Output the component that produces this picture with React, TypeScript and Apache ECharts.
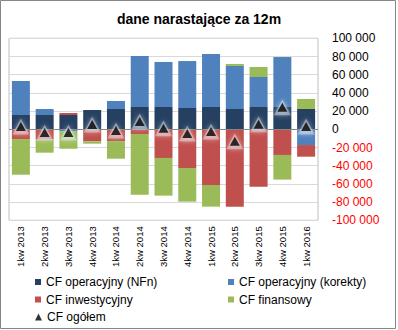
import React, { useEffect, useRef } from 'react';
import * as echarts from 'echarts';

const categories = ['1kw 2013', '2kw 2013', '3kw 2013', '4kw 2013', '1kw 2014', '2kw 2014', '3kw 2014', '4kw 2014', '1kw 2015', '2kw 2015', '3kw 2015', '4kw 2015', '1kw 2016'];
const cfNFn = [15700, 15700, 15700, 21200, 22300, 24500, 24500, 23400, 24500, 22300, 24500, 24500, 22300];
const cfKorekty = [37400, 6600, -2500, 0, 8800, 56000, 49500, 51600, 58200, 47300, 33000, 54900, -17300];
const cfInwest = [-10700, -11400, 2200, -13200, -12900, -5200, -31500, -42500, -61200, -85000, -63000, -28200, -12800];
const cfFinans = [-39200, -14300, -18800, -2600, -19400, -66600, -41400, -37000, -23800, 2200, 11000, -27100, 11000];
const cfOgolem = [3200, -3400, -3400, 5400, -1200, 8700, 1100, -4500, -2300, -13200, 5500, 24100, 3200];

const FONT = 'Liberation Sans';

function fmt(v: number) {
  const s = Math.abs(v).toString().replace(/\B(?=(\d{3})+(?!\d))/g, ' ');
  return (v < 0 ? '-' : '') + s;
}

export default function App() {
  const ref = useRef<HTMLDivElement>(null);
  useEffect(() => {
    const chart = echarts.init(ref.current!, null, { renderer: 'svg' });
    const legendBase = {
      orient: 'horizontal',
      padding: 0,
      itemWidth: 6,
      itemHeight: 6,
      itemGap: 5,
      textStyle: { fontSize: 12, fontFamily: FONT, color: '#000' },
      selectedMode: false,
    };
    chart.setOption({
      animation: false,
      backgroundColor: '#fff',
      title: {
        text: 'dane narastające za 12m',
        left: 'center',
        top: 12,
        padding: 0,
        textStyle: { fontSize: 14, fontWeight: 'bold', fontFamily: FONT, color: '#000' },
      },
      grid: {
        left: 9,
        right: 80,
        top: 38.3,
        bottom: 109.7,
        show: true,
        borderColor: '#bfbfbf',
        borderWidth: 1,
      },
      legend: [
        { ...legendBase, left: 35, top: 276, data: [{ name: 'CF operacyjny (NFn)', icon: 'rect' }] },
        { ...legendBase, left: 228, top: 276, data: [{ name: 'CF operacyjny (korekty)', icon: 'rect' }] },
        { ...legendBase, left: 35, top: 293.5, data: [{ name: 'CF inwestycyjny', icon: 'rect' }] },
        { ...legendBase, left: 228, top: 293.5, data: [{ name: 'CF finansowy', icon: 'rect' }] },
        { ...legendBase, left: 35, top: 311, itemWidth: 7, itemHeight: 7, data: [{ name: 'CF ogółem', icon: 'triangle' }] },
      ],
      xAxis: {
        type: 'category',
        data: categories,
        axisLine: { show: false },
        axisTick: { show: false },
        axisLabel: {
          interval: 0,
          rotate: 90,
          margin: 6,
          fontSize: 9.5,
          fontFamily: FONT,
          color: '#000',
        },
      },
      yAxis: {
        type: 'value',
        position: 'right',
        min: -100000,
        max: 100000,
        interval: 20000,
        axisLine: { show: false },
        axisTick: { show: false },
        splitLine: { lineStyle: { color: '#d9d9d9', width: 1 } },
        axisLabel: {
          margin: 14,
          fontSize: 12,
          fontFamily: FONT,
          formatter: (v: number) => fmt(v),
          color: (v: any) => (Number(v) < 0 ? '#ff0000' : '#000000'),
        },
      },
      series: [
        {
          name: 'CF operacyjny (NFn)',
          type: 'bar',
          stack: 'cf',
          barWidth: 18,
          data: cfNFn,
          itemStyle: { color: '#254061' },
        },
        {
          name: 'CF operacyjny (korekty)',
          type: 'bar',
          stack: 'cf',
          barWidth: 18,
          data: cfKorekty,
          itemStyle: { color: '#4f81bd' },
        },
        {
          name: 'CF inwestycyjny',
          type: 'bar',
          stack: 'cf',
          barWidth: 18,
          data: cfInwest,
          itemStyle: { color: '#c0504d' },
        },
        {
          name: 'CF finansowy',
          type: 'bar',
          stack: 'cf',
          barWidth: 18,
          data: cfFinans,
          itemStyle: { color: '#9bbb59' },
          markLine: {
            silent: true,
            symbol: 'none',
            label: { show: false },
            lineStyle: { color: '#868686', width: 1, type: 'solid' },
            data: [{ yAxis: 0 }],
            z: 3,
          },
        },
        {
          name: 'halo',
          type: 'scatter',
          data: cfOgolem,
          symbol: 'triangle',
          symbolSize: [17, 16],
          z: 9,
          silent: true,
          itemStyle: {
            color: 'rgba(235,240,250,0.55)',
            shadowBlur: 5,
            shadowColor: 'rgba(255,255,255,0.9)',
          },
        },
        {
          name: 'CF ogółem',
          type: 'scatter',
          data: cfOgolem,
          symbol: 'triangle',
          symbolSize: [10, 9],
          z: 10,
          itemStyle: { color: '#000' },
        },
      ],
      graphic: [
        {
          type: 'rect',
          silent: true,
          z: 100,
          shape: { x: 0.5, y: 0.5, width: 395, height: 328 },
          style: { fill: 'none', stroke: '#868686', lineWidth: 1 },
        },
      ],
    });
    return () => chart.dispose();
  }, []);
  return (
    <div
      ref={ref}
      style={{ position: 'fixed', left: 0, top: 0, width: 398, height: 330, background: '#fff' }}
    />
  );
}
